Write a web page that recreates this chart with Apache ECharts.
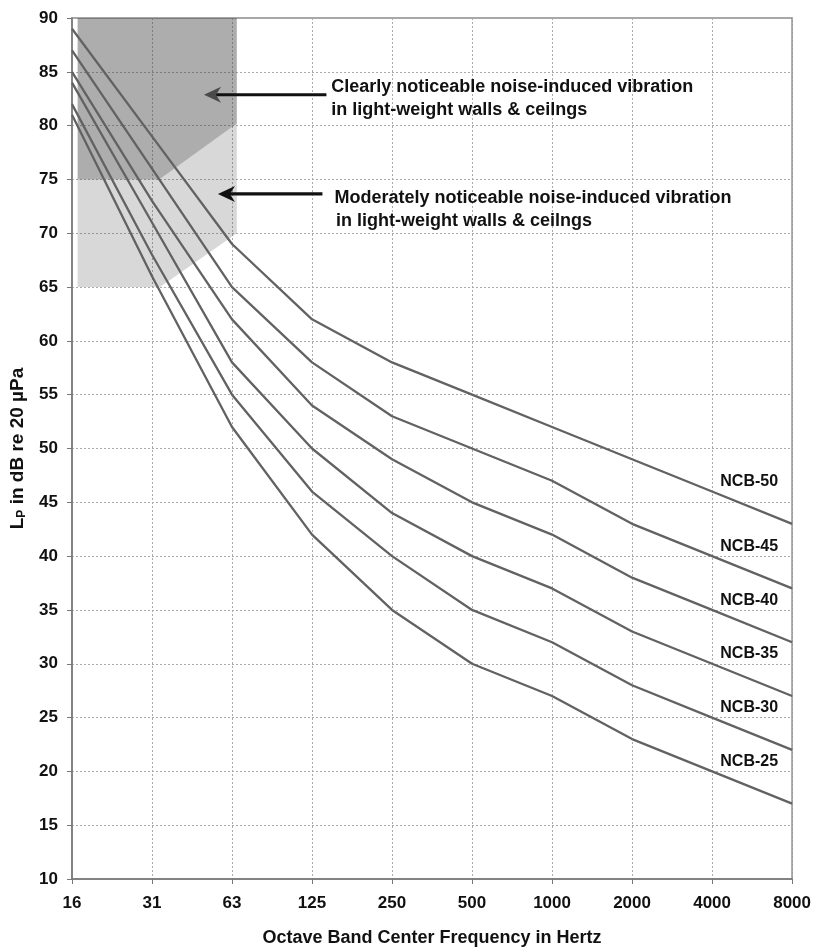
<!DOCTYPE html>
<html><head><meta charset="utf-8">
<script src="https://cdn.jsdelivr.net/npm/echarts@6/dist/echarts.min.js"></script>
<style>html,body{margin:0;padding:0;background:#fff}#c{width:814px;height:952px}</style>
</head><body><div id="c"></div>
<script>
// ---- data ----
const freqLabels = ['16','31','63','125','250','500','1000','2000','4000','8000'];
const yTicks = { min: 10, max: 90, step: 5 };
const ncb50 = [89, 79, 69, 62, 58, 55, 52, 49, 46, 43];
const ncb45 = [87, 76, 65, 58, 53, 50, 47, 43, 40, 37];
const ncb40 = [85, 73, 62, 54, 49, 45, 42, 38, 35, 32];
const ncb35 = [84, 71, 58, 50, 44, 40, 37, 33, 30, 27];
const ncb30 = [82, 68, 55, 46, 40, 35, 32, 28, 25, 22];
const ncb25 = [81, 66, 52, 42, 35, 30, 27, 23, 20, 17];
const curveNames = ['NCB-50','NCB-45','NCB-40','NCB-35','NCB-30','NCB-25'];
const curves = [ncb50, ncb45, ncb40, ncb35, ncb30, ncb25];
// shaded regions (x in octave-band index units, y in dB)
const clearlyRegion = [[0.07,90],[2.06,90],[2.06,80.2],[1.09,75],[0.07,75]];
const moderateRegion = [[0.07,75],[1.09,75],[2.06,80.2],[2.06,70],[1.1,65],[0.07,65]];
// annotation arrows: tail -> tip
const arrowClearly = { tail: [3.18, 82.87], tip: [1.65, 82.87] };
const arrowModerate = { tail: [3.13, 73.65], tip: [1.824, 73.65] };
const noteClearly = ['Clearly noticeable noise-induced vibration', 'in light-weight walls & ceilngs'];
const noteModerate = ['Moderately noticeable noise-induced vibration', 'in light-weight walls & ceilngs'];
const noteClearlyAnchor = [[3.24, 83.6], [3.24, 81.48]];
const noteModerateAnchor = [[3.28, 73.3], [3.30, 71.16]];

// ---- chart ----
const FONT = '"Liberation Sans", Arial, sans-serif';
const chart = echarts.init(document.getElementById('c'), null, { renderer: 'canvas' });

function regionSeries(points, color) {
  return {
    type: 'custom', silent: true, z: 1, clip: false,
    data: [points[0]],
    renderItem: (params, api) => ({
      type: 'polygon',
      shape: { points: points.map(p => api.coord(p)) },
      style: { fill: color }
    })
  };
}

function arrowEls(api, a, lineColor, headColor) {
  const s = api.coord(a.tail), t = api.coord(a.tip);
  return [
    { type: 'line', shape: { x1: s[0], y1: s[1], x2: t[0] + 12, y2: t[1] }, style: { stroke: lineColor, lineWidth: 3.2 } },
    { type: 'polygon', shape: { points: [[t[0], t[1]], [t[0] + 17, t[1] - 8], [t[0] + 12, t[1]], [t[0] + 17, t[1] + 8]] }, style: { fill: headColor } }
  ];
}
function textEls(api, lines, anchors) {
  return lines.map((txt, i) => {
    const p = api.coord(anchors[i]);
    return { type: 'text', x: p[0], y: p[1], style: { text: txt, fill: '#111', font: 'bold 18px ' + FONT, textAlign: 'left', textVerticalAlign: 'middle' } };
  });
}

const lineSeries = curves.map((vals, k) => ({
  type: 'line', name: curveNames[k], z: 5,
  showSymbol: true, symbol: 'circle', symbolSize: 0.001, animation: false,
  lineStyle: { color: '#626262', width: 2.3 },
  itemStyle: { color: '#626262' },
  label: { show: false },
  data: vals.map((v, i) => i === vals.length - 1
    ? { value: [i, v],
        label: { show: true, formatter: curveNames[k], position: 'left', distance: 5, offset: [-9, -42],
                 color: '#111', fontWeight: 'bold', fontSize: 16, fontFamily: FONT } }
    : [i, v])
}));

const option = {
  animation: false,
  backgroundColor: '#fff',
  grid: { left: 71, right: 21, top: 18, bottom: 73, show: true, borderColor: '#8a8a8a', borderWidth: 1.5, backgroundColor: 'transparent' },
  xAxis: {
    type: 'value', min: 0, max: freqLabels.length - 1, interval: 1,
    name: 'Octave Band Center Frequency in Hertz', nameLocation: 'middle', nameGap: 50,
    nameTextStyle: { fontFamily: FONT, fontWeight: 'bold', fontSize: 18, color: '#111' },
    axisLine: { show: true, lineStyle: { color: '#777', width: 1.5 } },
    axisTick: { show: true, length: 5, lineStyle: { color: '#777' } },
    axisLabel: { formatter: v => freqLabels[v], fontFamily: FONT, fontWeight: 'bold', fontSize: 17, color: '#111', margin: 16 },
    splitLine: { show: true, lineStyle: { color: '#aaa', type: [2, 2], width: 1 } }
  },
  yAxis: {
    type: 'value', min: yTicks.min, max: yTicks.max, interval: yTicks.step,
    name: '{b|L}{s|P}{b| in dB re 20 µPa}', nameLocation: 'middle', nameGap: 44, nameRotate: 90,
    nameTextStyle: { color: '#111', rich: {
      b: { fontFamily: FONT, fontWeight: 'bold', fontSize: 19, color: '#111' },
      s: { fontFamily: FONT, fontWeight: 'bold', fontSize: 12, color: '#111', padding: [9, 0, 0, 0] }
    } },
    axisLine: { show: true, lineStyle: { color: '#777', width: 1.5 } },
    axisTick: { show: true, length: 5, lineStyle: { color: '#777' } },
    axisLabel: { fontFamily: FONT, fontWeight: 'bold', fontSize: 17, color: '#111', margin: 14 },
    splitLine: { show: true, lineStyle: { color: '#aaa', type: [2, 2], width: 1 } }
  },
  series: [
    regionSeries(clearlyRegion, 'rgba(60,60,60,0.42)'),
    regionSeries(moderateRegion, 'rgba(60,60,60,0.2)'),
    ...lineSeries,
    {
      type: 'custom', silent: true, z: 10, clip: false,
      data: [arrowClearly.tip],
      renderItem: (params, api) => ({
        type: 'group',
        children: [
          ...arrowEls(api, arrowClearly, '#111', '#4a4a4a'),
          ...arrowEls(api, arrowModerate, '#111', '#111'),
          ...textEls(api, noteClearly, noteClearlyAnchor),
          ...textEls(api, noteModerate, noteModerateAnchor)
        ]
      })
    }
  ]
};
chart.setOption(option);
</script>
</body></html>
